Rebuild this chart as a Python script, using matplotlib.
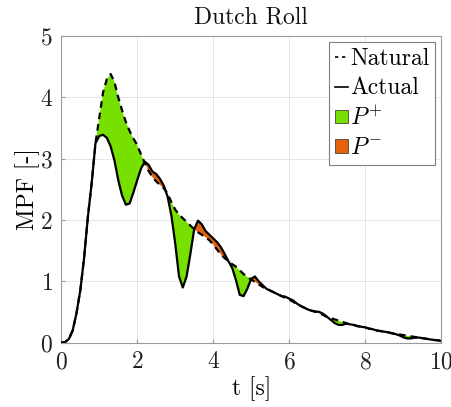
import numpy as np
import matplotlib
matplotlib.use("Agg")
import matplotlib.pyplot as plt
from matplotlib.lines import Line2D
from matplotlib.patches import Patch

plt.rcParams['font.family'] = 'serif'
plt.rcParams['font.serif'] = ['cmr10']
plt.rcParams['mathtext.fontset'] = 'cm'
plt.rcParams['axes.formatter.use_mathtext'] = True

t = np.round(np.arange(0, 10.0001, 0.1), 2)

natural = [0.0, 0.01, 0.06, 0.2, 0.48, 0.85, 1.38, 2.05, 2.6, 3.25,
           3.67, 4.08, 4.3, 4.38, 4.25, 4.0, 3.79, 3.6, 3.45, 3.33,
           3.22, 3.07, 2.93, 2.8, 2.7, 2.63, 2.57, 2.52, 2.43, 2.29,
           2.17, 2.09, 2.03, 1.97, 1.91, 1.85, 1.8, 1.76, 1.72, 1.67,
           1.6, 1.52, 1.44, 1.38, 1.33, 1.28, 1.24, 1.18, 1.12, 1.07,
           1.03, 0.99, 0.95, 0.91, 0.88, 0.85, 0.82, 0.79, 0.76, 0.73,
           0.7, 0.67, 0.63, 0.6, 0.57, 0.54, 0.52, 0.5, 0.48, 0.45,
           0.42, 0.4, 0.38, 0.36, 0.34, 0.32, 0.3, 0.29, 0.27, 0.26,
           0.25, 0.23, 0.22, 0.2, 0.19, 0.18, 0.17, 0.155, 0.145, 0.135,
           0.125, 0.115, 0.105, 0.095, 0.085, 0.075, 0.065, 0.055, 0.045, 0.04,
           0.03]

actual = [0.0, 0.01, 0.06, 0.2, 0.48, 0.85, 1.38, 2.05, 2.6, 3.25,
          3.37, 3.39, 3.34, 3.2, 2.97, 2.65, 2.4, 2.25, 2.27, 2.45,
          2.65, 2.84, 2.95, 2.9, 2.79, 2.75, 2.67, 2.56, 2.38, 2.07,
          1.62, 1.08, 0.9, 1.08, 1.45, 1.85, 1.99, 1.93, 1.82, 1.76,
          1.7, 1.64, 1.56, 1.45, 1.33, 1.22, 1.02, 0.78, 0.76, 0.88,
          1.04, 1.08, 1.0, 0.94, 0.88, 0.85, 0.82, 0.79, 0.76, 0.75,
          0.72, 0.69, 0.64, 0.6, 0.57, 0.54, 0.52, 0.51, 0.5, 0.47,
          0.42, 0.37, 0.32, 0.29, 0.29, 0.31, 0.3, 0.29, 0.27, 0.26,
          0.25, 0.23, 0.22, 0.2, 0.19, 0.18, 0.17, 0.155, 0.14, 0.12,
          0.09, 0.07, 0.07, 0.08, 0.085, 0.075, 0.065, 0.055, 0.045, 0.04,
          0.03]

natural = np.array(natural)
actual = np.array(actual)

green = '#77e000'
orange = '#e5620a'
FS = 17

fig = plt.figure(figsize=(4.52, 4.07), dpi=100)
ax = fig.add_axes([0.1356, 0.158, 0.8401, 0.7535])

ax.fill_between(t, actual, natural, where=natural >= actual, interpolate=True,
                facecolor=green, edgecolor='none', zorder=2)
ax.fill_between(t, actual, natural, where=actual >= natural, interpolate=True,
                facecolor=orange, edgecolor='none', zorder=2)
ax.plot(t, natural, color='black', linestyle=(0, (3.0, 2.2)), linewidth=1.6, zorder=3)
ax.plot(t, actual, color='black', linewidth=1.6, zorder=4)

ax.set_xlim(0, 10)
ax.set_ylim(0, 5)
ax.set_xticks([0, 2, 4, 6, 8, 10])
ax.set_yticks([0, 1, 2, 3, 4, 5])
ax.grid(True, color='#e6e6e6', linewidth=0.7)
ax.set_axisbelow(True)
for s in ax.spines.values():
    s.set_color('#9a9a9a')
    s.set_linewidth(0.8)
ax.tick_params(direction='in', length=3, color='#9a9a9a', labelsize=FS,
               labelcolor='#222222', pad=6)

ax.set_title('Dutch Roll', fontsize=FS, color='#111111', pad=9)
ax.set_xlabel('t [s]', fontsize=FS, labelpad=2)
ax.set_ylabel('MPF [-]', fontsize=FS, labelpad=0)

handles = [Line2D([], [], color='black', linestyle=(0, (2.0, 2.2)), linewidth=1.2),
           Line2D([], [], color='black', linewidth=1.2),
           Patch(facecolor=green, edgecolor='#444444', linewidth=0.6),
           Patch(facecolor=orange, edgecolor='#444444', linewidth=0.6)]
labels = ['Natural', 'Actual', '$P^{+}$', '$P^{-}$']
leg = ax.legend(handles, labels, loc='upper right', fontsize=FS, handlelength=0.55,
                handleheight=0.5, handletextpad=0.08, borderpad=0.25, labelspacing=0.3,
                fancybox=False, framealpha=1, borderaxespad=0.25)
leg.get_frame().set_edgecolor('#7f7f7f')
leg.get_frame().set_linewidth(0.8)

fig.savefig('out.png', dpi=100)
